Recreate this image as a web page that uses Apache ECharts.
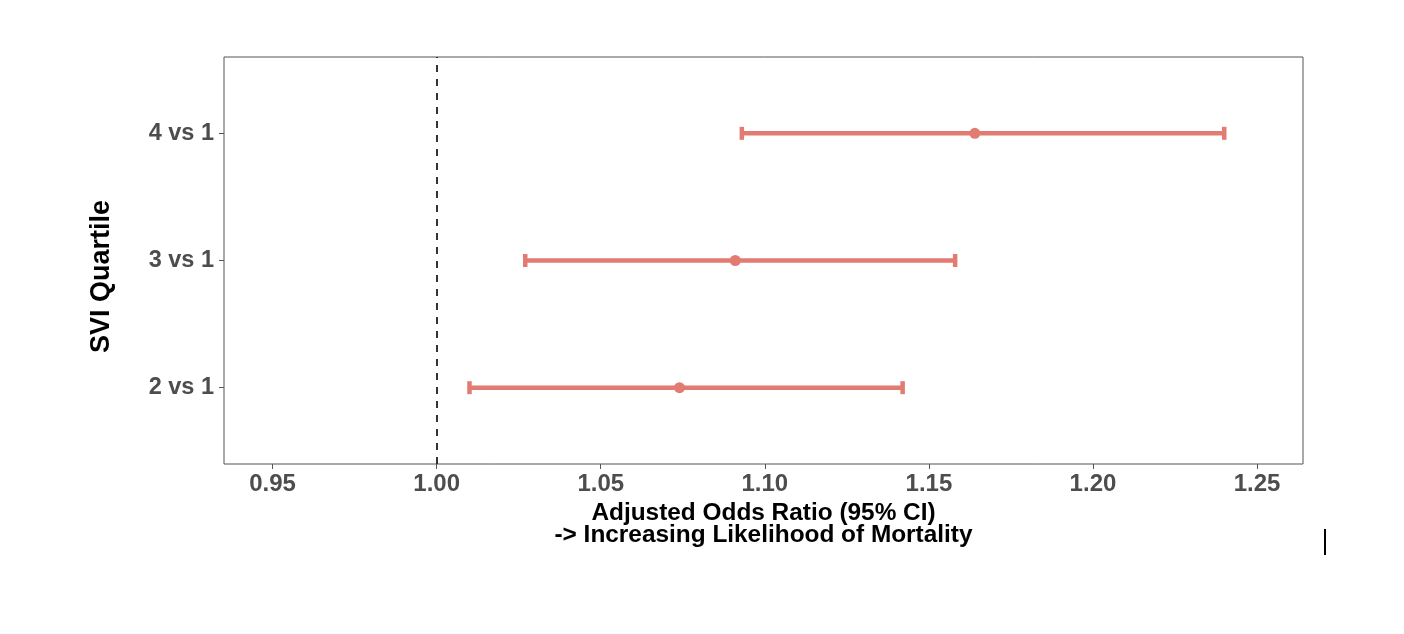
<!DOCTYPE html>
<html>
<head>
<meta charset="utf-8">
<script src="https://cdn.jsdelivr.net/npm/echarts@6/dist/echarts.min.js"></script>
<style>
html,body{margin:0;padding:0;background:#fff;}
#chart{width:1404px;height:634px;}
</style>
</head>
<body>
<div id="chart"></div>
<script>
const categories = ['2 vs 1', '3 vs 1', '4 vs 1'];
const categoryPos = [1, 2, 3];
const oddsRatio = [1.074, 1.091, 1.164];
const ciLower = [1.010, 1.027, 1.093];
const ciUpper = [1.142, 1.158, 1.240];
const xTicks = [0.95, 1.00, 1.05, 1.10, 1.15, 1.20, 1.25];
const referenceValue = 1.0;

const color = '#E27B71';
const font = '"Liberation Sans", Arial, sans-serif';

const ciData = categoryPos.map((y, i) => [ciLower[i], ciUpper[i], y]);
const pointData = categoryPos.map((y, i) => [oddsRatio[i], y]);

const chart = echarts.init(document.getElementById('chart'));
chart.setOption({
  backgroundColor: '#ffffff',
  animation: false,
  grid: {
    left: 224, right: 101, top: 57, bottom: 170,
    show: true, borderColor: '#555555', borderWidth: 1,
    outerBoundsMode: 'none', containLabel: false
  },
  xAxis: {
    type: 'value',
    min: 0.9352, max: 1.264,
    name: 'Adjusted Odds Ratio (95% CI)\n-> Increasing Likelihood of Mortality',
    nameLocation: 'middle',
    nameGap: 31,
    nameTextStyle: {
      fontFamily: font, fontWeight: 'bold', fontSize: 24.4, color: '#000',
      lineHeight: 22, align: 'center'
    },
    axisLine: { show: false },
    axisTick: { show: true, length: 5, lineStyle: { color: '#555', width: 1 }, customValues: xTicks },
    axisLabel: {
      customValues: xTicks,
      formatter: v => v.toFixed(2),
      fontFamily: font, fontWeight: 'bold', fontSize: 24, color: '#4D4D4D', margin: 8
    },
    splitLine: { show: false }
  },
  yAxis: {
    type: 'value',
    min: 0.4, max: 3.6,
    name: 'SVI Quartile',
    nameLocation: 'middle',
    nameGap: 109,
    nameRotate: 90,
    nameTextStyle: { fontFamily: font, fontWeight: 'bold', fontSize: 27, color: '#000', padding: [0, 32, 0, 0] },
    axisLine: { show: false },
    axisTick: { show: true, length: 5, lineStyle: { color: '#555', width: 1 }, customValues: categoryPos },
    axisLabel: {
      customValues: categoryPos,
      formatter: v => categories[Math.round(v) - 1],
      fontFamily: font, fontWeight: 'bold', fontSize: 23.5, color: '#4D4D4D', margin: 10
    },
    splitLine: { show: false }
  },
  series: [
    {
      type: 'custom',
      data: ciData,
      encode: { x: [0, 1], y: 2 },
      renderItem: function (params, api) {
        const y = api.value(2);
        const p1 = api.coord([api.value(0), y]);
        const p2 = api.coord([api.value(1), y]);
        const h = 6.5;
        const style = { stroke: color, lineWidth: 4.5, fill: null };
        return {
          type: 'group',
          children: [
            { type: 'line', shape: { x1: p1[0], y1: p1[1], x2: p2[0], y2: p2[1] }, style: style },
            { type: 'line', shape: { x1: p1[0], y1: p1[1] - h, x2: p1[0], y2: p1[1] + h }, style: style },
            { type: 'line', shape: { x1: p2[0], y1: p2[1] - h, x2: p2[0], y2: p2[1] + h }, style: style }
          ]
        };
      },
      silent: true
    },
    {
      type: 'scatter',
      data: pointData,
      symbol: 'circle',
      symbolSize: 11,
      itemStyle: { color: color, opacity: 1 },
      silent: true,
      markLine: {
        silent: true,
        symbol: 'none',
        label: { show: false },
        lineStyle: { color: '#333333', width: 2, type: [7, 7] },
        data: [{ xAxis: referenceValue }]
      }
    }
  ],
  graphic: [
    { type: 'rect', shape: { x: 1324, y: 529, width: 2, height: 26 }, style: { fill: '#000' } }
  ]
});
</script>
</body>
</html>
